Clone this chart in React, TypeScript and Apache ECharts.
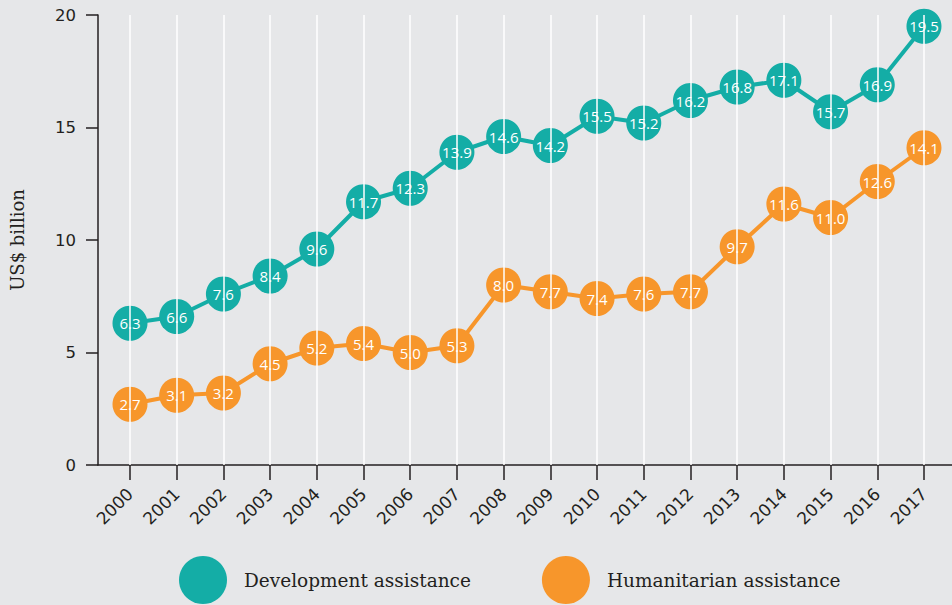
import React, { useEffect, useRef } from "react";
import * as echarts from "echarts";

const years = [2000, 2001, 2002, 2003, 2004, 2005, 2006, 2007, 2008, 2009, 2010, 2011, 2012, 2013, 2014, 2015, 2016, 2017];
const development = [6.3, 6.6, 7.6, 8.4, 9.6, 11.7, 12.3, 13.9, 14.6, 14.2, 15.5, 15.2, 16.2, 16.8, 17.1, 15.7, 16.9, 19.5];
const humanitarian = [2.7, 3.1, 3.2, 4.5, 5.2, 5.4, 5.0, 5.3, 8.0, 7.7, 7.4, 7.6, 7.7, 9.7, 11.6, 11.0, 12.6, 14.1];
const yTicks = [0, 5, 10, 15, 20];

const TEAL = "#14ada6";
const ORANGE = "#f7962b";
const INK = "#231f20";

export default function App() {
  const ref = useRef<HTMLDivElement>(null);
  useEffect(() => {
    const chart = echarts.init(ref.current!, null, { renderer: "svg" });
    const pairs = (vals: number[]) => years.map((y, i) => [y, vals[i]]);
    const pointLabel = {
      show: true,
      position: "inside",
      color: "#ffffff",
      fontFamily: "Open Sans",
      fontSize: 15,
      formatter: (p: any) => Number(p.value[1]).toFixed(1),
    };
    chart.setOption({
      animation: false,
      backgroundColor: "#e6e7e9",
      grid: { left: 98, right: 0, top: 15, bottom: 140, containLabel: false, outerBoundsMode: "none" },
      xAxis: {
        type: "value",
        min: 1999.315,
        max: 2017.6,
        axisLine: { show: true, onZero: false, lineStyle: { color: INK, width: 1.5 } },
        axisTick: { show: true, customValues: years, length: 15, lineStyle: { color: INK, width: 1.5 } },
        axisLabel: {
          customValues: years,
          rotate: 45,
          margin: 26,
          color: INK,
          fontFamily: "DejaVu Sans",
          fontSize: 17,
          formatter: (v: number) => String(v),
        },
        splitLine: { show: false },
      },
      yAxis: {
        type: "value",
        min: 0,
        max: 20,
        interval: 5,
        name: "US$ billion",
        nameLocation: "middle",
        nameGap: 72,
        nameTextStyle: { color: INK, fontFamily: "DejaVu Serif", fontSize: 18 },
        axisLine: { show: true, lineStyle: { color: INK, width: 1.5 } },
        axisTick: { show: true, length: 12, lineStyle: { color: INK, width: 1.5 } },
        axisLabel: {
          margin: 22,
          color: INK,
          fontFamily: "DejaVu Sans",
          fontSize: 16.5,
          customValues: yTicks,
        },
        splitLine: { show: false },
      },
      legend: {
        top: 556,
        left: 179,
        padding: 0,
        itemWidth: 48,
        itemHeight: 48,
        itemGap: 71,
        icon: "circle",
        textStyle: { color: INK, fontFamily: "DejaVu Serif", fontSize: 18.5, padding: [0, 0, 0, 12] },
        data: ["Development assistance", "Humanitarian assistance"],
      },
      series: [
        {
          type: "line",
          name: "grid",
          data: [],
          z: 1,
          silent: true,
          markLine: {
            silent: true,
            symbol: "none",
            label: { show: false },
            lineStyle: { color: "#ffffff", type: "solid", width: 1.5 },
            data: years.map((y) => ({ xAxis: y })),
          },
        },
        {
          type: "line",
          name: "Development assistance",
          data: pairs(development),
          z: 3,
          symbol: "circle",
          symbolSize: 35,
          itemStyle: { color: TEAL },
          lineStyle: { color: TEAL, width: 4 },
          label: pointLabel,
        },
        {
          type: "line",
          name: "Humanitarian assistance",
          data: pairs(humanitarian),
          z: 3,
          symbol: "circle",
          symbolSize: 35,
          itemStyle: { color: ORANGE },
          lineStyle: { color: ORANGE, width: 4 },
          label: pointLabel,
        },
      ],
    });
    return () => chart.dispose();
  }, []);
  return <div ref={ref} style={{ width: 952, height: 605, position: "absolute", left: 0, top: 0 }} />;
}
